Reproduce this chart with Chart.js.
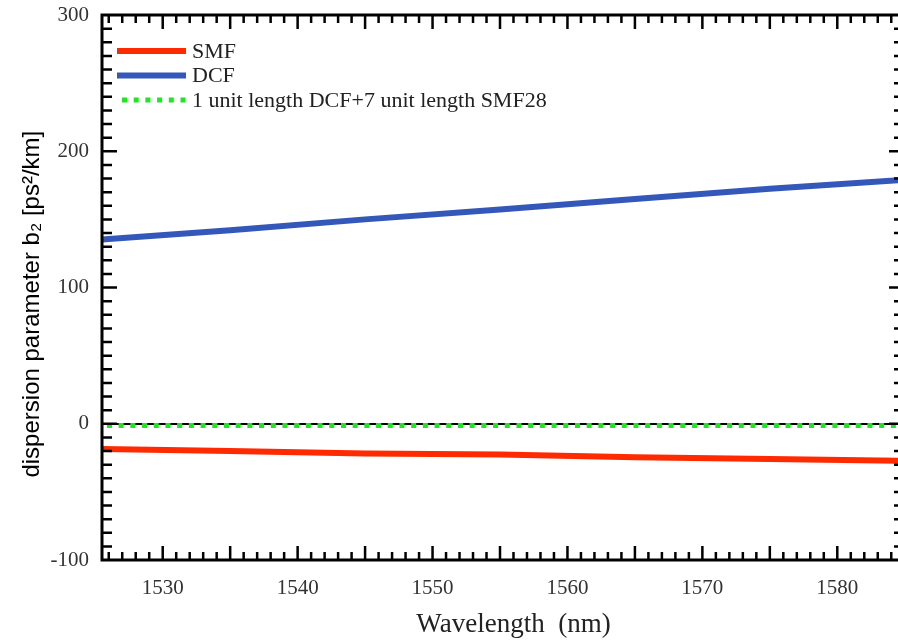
<!DOCTYPE html>
<html>
<head>
<meta charset="utf-8">
<script src="https://cdn.jsdelivr.net/npm/chart.js@4"></script>
<style>
  html, body { margin: 0; padding: 0; background: #fff; }
  #wrap { width: 898px; height: 641px; }
</style>
</head>
<body>
<div id="wrap"><canvas id="dispersion"></canvas></div>
<script>
// values
const wavelength = [1525, 1535, 1545, 1555, 1565, 1575, 1585];
const smf = [-18.5, -20, -21.8, -22.6, -24.5, -25.8, -27.3];
const dcf = [134.8, 142, 150, 157.3, 165, 172.5, 179];
const mixed = [-1.2, -1.2, -1.2, -1.2, -1.2, -1.2, -1.2];
const seriesNames = ['SMF', 'DCF', '1 unit length DCF+7 unit length SMF28'];
const xTicks = [1530, 1540, 1550, 1560, 1570, 1580];
const yTicks = [-100, 0, 100, 200, 300];

const serif = '"Liberation Serif", "Times New Roman", serif';
const sans = '"Liberation Sans", Arial, sans-serif';

const toPoints = (ys) => wavelength.map((w, i) => ({ x: w, y: ys[i] }));

// box, inward ticks on all four sides
const frameTicks = {
  id: 'frameTicks',
  afterDatasetsDraw(chart) {
    const { ctx, chartArea: a, scales: { x, y } } = chart;
    const seg = (x1, y1, x2, y2) => { ctx.moveTo(x1, y1); ctx.lineTo(x2, y2); };
    ctx.save();
    ctx.strokeStyle = '#000';
    ctx.lineWidth = 3;
    ctx.beginPath();
    seg(a.left, a.top, a.right + 6, a.top);
    seg(a.left, a.top - 1.5, a.left, a.bottom + 1.5);
    seg(a.left, a.bottom, a.right + 6, a.bottom);
    ctx.stroke();

    ctx.lineWidth = 2.5;
    ctx.beginPath();
    for (let v = 1526; v <= 1584; v++) {
      const px = x.getPixelForValue(v);
      const len = v % 5 === 0 ? 14 : 8;
      seg(px, a.bottom, px, a.bottom - len);
      seg(px, a.top, px, a.top + len);
    }
    const rx = a.right + 6;
    for (let v = -90; v <= 290; v += 10) {
      const py = y.getPixelForValue(v);
      const len = v % 100 === 0 ? 15 : 10;
      seg(a.left, py, a.left + len, py);
      seg(rx, py, rx - len, py);
    }
    ctx.stroke();
    ctx.restore();
  }
};

// legend drawn inside the plot, top left
const innerLegend = {
  id: 'innerLegend',
  afterDraw(chart) {
    const { ctx, chartArea: a } = chart;
    ctx.save();
    ctx.font = '22px ' + serif;
    ctx.textBaseline = 'middle';
    ctx.fillStyle = '#222';
    chart.data.datasets.forEach((ds, i) => {
      const yy = a.top + 36 + i * 24.5;
      ctx.strokeStyle = ds.borderColor;
      ctx.lineWidth = ds.borderWidth;
      ctx.setLineDash(ds.borderDash || []);
      ctx.beginPath();
      ctx.moveTo(a.left + (ds.borderDash ? 20 : 15), yy);
      ctx.lineTo(a.left + 84, yy);
      ctx.stroke();
      ctx.fillText(ds.label, a.left + 90, yy + 1);
    });
    ctx.restore();
  }
};

new Chart(document.getElementById('dispersion'), {
  type: 'line',
  data: {
    datasets: [{
      label: seriesNames[0],
      data: toPoints(smf),
      borderColor: '#ff2a00',
      borderWidth: 6,
      pointRadius: 0
    }, {
      label: seriesNames[1],
      data: toPoints(dcf),
      borderColor: '#3358b9',
      borderWidth: 6,
      pointRadius: 0
    }, {
      label: seriesNames[2],
      data: toPoints(mixed),
      borderColor: '#1de81d',
      borderWidth: 5,
      borderDash: [5, 6.7],
      pointRadius: 0
    }]
  },
  options: {
    responsive: true,
    maintainAspectRatio: false,
    animation: false,
    devicePixelRatio: 1,
    layout: { padding: { top: 15, right: 0, left: 0, bottom: 0 } },
    plugins: { legend: { display: false }, tooltip: { enabled: false } },
    scales: {
      x: {
        type: 'linear',
        min: 1525.5,
        max: 1584.5,
        afterBuildTicks: (s) => { s.ticks = xTicks.map(v => ({ value: v })); },
        afterFit: (s) => { s.height = 81; s.paddingLeft = 0; s.paddingRight = 0; },
        grid: { display: false, drawTicks: false },
        border: { display: false },
        ticks: {
          font: { family: serif, size: 21 },
          color: '#333',
          padding: 16,
          maxRotation: 0,
          callback: (v) => String(v)
        },
        title: {
          display: true,
          text: '    Wavelength  (nm)',
          font: { family: serif, size: 27 },
          color: '#222',
          padding: { top: 0, bottom: 0 }
        }
      },
      y: {
        min: -100,
        max: 300,
        afterBuildTicks: (s) => { s.ticks = yTicks.map(v => ({ value: v })); },
        afterFit: (s) => { s.width = 102; s.paddingTop = 0; s.paddingBottom = 0; },
        grid: {
          drawTicks: false,
          lineWidth: 2,
          color: (c) => (c.tick && c.tick.value === 0 ? '#000' : 'rgba(0,0,0,0)')
        },
        border: { display: false },
        ticks: {
          font: { family: serif, size: 21 },
          color: '#333',
          padding: 13,
          callback: (v) => String(v)
        },
        title: {
          display: true,
          text: 'dispersion parameter b₂ [ps²/km]     ',
          font: { family: sans, size: 24 },
          color: '#000',
          padding: { top: 18, bottom: 0 }
        }
      }
    }
  },
  plugins: [frameTicks, innerLegend]
});
</script>
</body>
</html>
